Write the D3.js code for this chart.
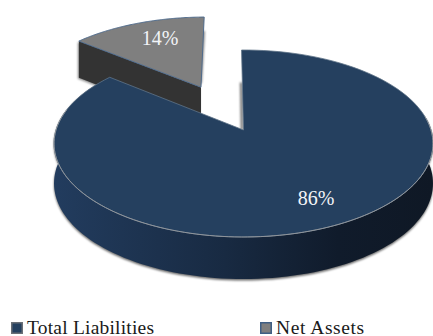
<!DOCTYPE html>
<html>
<head>
<meta charset="utf-8">
<script src="https://cdn.jsdelivr.net/npm/d3@7"></script>
<style>
  html, body { margin: 0; background: #fff; }
  svg { display: block; }
  text { font-family: "Liberation Serif", serif; }
</style>
</head>
<body>
<svg id="chart" width="433" height="336"></svg>
<script>
// Balance sheet split, shown as a tilted 3D pie with the smaller slice pulled out.
const categories = ["Total Liabilities", "Net Assets"];
const shares = [86, 14];
const shareLabels = ["86%", "14%"];
const exploded = [0, 0.557];
const topColors = ["#25405f", "#7f7f7f"];
const edgeColors = ["#5f7488", "#4f6b8c"];
const legendEdges = ["#6a6f76", "#3f5f85"];

const width = 433, height = 336;
const svg = d3.select("#chart").attr("viewBox", [0, 0, width, height]);
const defs = svg.append("defs");

// Perspective projection of the unit disc onto the page.
const view = { cx: 243.5, cy: 130, a: 187.5, b: 91.55, k: 0.1444 };
const project = (u, v) => {
  const w = 1 + view.k * v;
  return [view.cx + view.a * u / w, view.cy - view.b * v / w];
};
// Wall height shrinks a little towards the back of the pie.
const wall = v => 39.5 - 2.5 * v;
const lower = (u, v) => {
  const [x, y] = project(u, v);
  return [x, y + wall(v)];
};

// The whole pie is turned very slightly anticlockwise.
const turn = -0.012;
const slices = d3.pie().sort(null).startAngle(turn).endAngle(2 * Math.PI + turn)(shares);
const offset = (d, i) => {
  const mid = (d.startAngle + d.endAngle) / 2;
  return [exploded[i] * Math.sin(mid), exploded[i] * Math.cos(mid)];
};
const rimPoint = (d, i, t) => {
  const [ou, ov] = offset(d, i);
  return [ou + Math.sin(t), ov + Math.cos(t)];
};
const angles = (a0, a1) => d3.range(0, 121).map(s => a0 + (a1 - a0) * s / 120);

const line = d3.line();
const outline = (d, i) => {
  const [ou, ov] = offset(d, i);
  const rim = angles(d.startAngle, d.endAngle).map(t => project(...rimPoint(d, i, t)));
  return line([project(ou, ov), ...rim]) + "Z";
};

const grad = defs.append("linearGradient").attr("id", "wallShade")
  .attr("gradientUnits", "userSpaceOnUse")
  .attr("x1", 55).attr("x2", 433).attr("y1", 0).attr("y2", 0);
grad.append("stop").attr("offset", 0).attr("stop-color", "#223c5e");
grad.append("stop").attr("offset", 0.45).attr("stop-color", "#182a42");
grad.append("stop").attr("offset", 0.75).attr("stop-color", "#101b2b");
grad.append("stop").attr("offset", 1).attr("stop-color", "#0f1825");
defs.append("filter").attr("id", "soft").attr("x", "-10%").attr("y", "-10%")
  .attr("width", "120%").attr("height", "120%")
  .append("feGaussianBlur").attr("stdDeviation", 1.2);

const big = slices[0], small = slices[1];

// Curved outer wall of the large slice, from the right extreme round the front to its far corner.
const frontStart = Math.PI / 2 - 0.15, frontEnd = big.endAngle;
const frontTop = angles(frontStart, frontEnd).map(t => project(...rimPoint(big, 0, t)));
const frontBottom = angles(frontEnd, frontStart).map(t => lower(...rimPoint(big, 0, t)));
const wallPath = line([...frontTop, ...frontBottom]) + "Z";

// Straight wall facing the viewer on the pulled-out slice.
const [sou, sov] = offset(small, 1);
const sLeft = rimPoint(small, 1, small.startAngle);
const smallWall = line([
  project(...sLeft), project(sou, sov), lower(sou, sov), lower(...sLeft)
]) + "Z";

const shadow = svg.append("g").attr("filter", "url(#soft)");
shadow.append("path").attr("d", smallWall).attr("fill", "#000").attr("opacity", 0.45)
  .attr("transform", "translate(-1,1)");
shadow.append("path").attr("d", wallPath).attr("fill", "#000").attr("opacity", 0.6)
  .attr("transform", "translate(0,1.5)");
// Thin shadows along the two facing radial edges of the gap.
shadow.append("path")
  .attr("d", line([project(sou - 0.01, sov + 0.05), project(sou - 0.015, sov + 0.78)]))
  .attr("stroke", "#000").attr("stroke-width", 3).attr("opacity", 0.45)
  .attr("transform", "translate(1,0)");
shadow.append("path")
  .attr("d", line([project(0, 0), project(-0.005, 0.56)]))
  .attr("stroke", "#000").attr("stroke-width", 2.6).attr("opacity", 0.55)
  .attr("transform", "translate(-1.5,0)");

// Pulled-out slice first: it sits behind the large one.
svg.append("path").attr("d", smallWall).attr("fill", "#333333");
svg.append("path").attr("d", outline(small, 1))
  .attr("fill", topColors[1]).attr("stroke", edgeColors[1]).attr("stroke-width", 1);

svg.append("path").attr("d", wallPath).attr("fill", "url(#wallShade)");
svg.append("path").attr("d", outline(big, 0))
  .attr("fill", topColors[0]).attr("stroke", edgeColors[0]).attr("stroke-width", 0.8);
// Lighter highlight along the front rim.
svg.append("path")
  .attr("d", line(angles(frontStart, frontEnd - 0.45).map(t => project(...rimPoint(big, 0, t)))))
  .attr("fill", "none").attr("stroke", "#8f949a").attr("stroke-width", 1);

// Percentage labels on the top faces.
svg.append("g").selectAll("text").data(shareLabels).join("text")
  .attr("x", (d, i) => i ? 160 : 316)
  .attr("y", (d, i) => i ? 45 : 205)
  .attr("text-anchor", "middle")
  .attr("font-size", 20)
  .attr("fill", "#f2f4f7")
  .text(d => d);

// Legend along the bottom edge.
const legendX = d3.scalePoint().domain(categories).range([11, 260]);
const legendWidths = [127, 88];
const legend = svg.append("g").selectAll("g").data(categories).join("g")
  .attr("transform", d => `translate(${legendX(d)},322)`);
legend.append("rect")
  .attr("x", 0.75).attr("y", 0.75).attr("width", 10.5).attr("height", 10.5)
  .attr("fill", (d, i) => topColors[i])
  .attr("stroke", (d, i) => legendEdges[i]).attr("stroke-width", 1.5);
legend.append("text")
  .attr("x", 16).attr("y", 11.5)
  .attr("font-size", 19.5)
  .attr("fill", "#1a1a1a")
  .attr("textLength", (d, i) => legendWidths[i])
  .attr("lengthAdjust", "spacing")
  .text(d => d);
</script>
</body>
</html>
